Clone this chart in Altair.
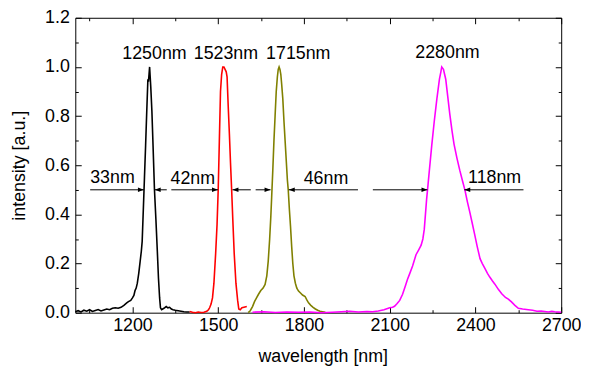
import altair as alt
import pandas as pd

# ---------------- data ----------------
black_nm = [1000, 1010, 1020, 1030, 1040, 1050, 1060, 1070, 1080, 1090, 1100, 1110, 1120, 1130, 1140, 1150,
            1160, 1170, 1180, 1186, 1194, 1200, 1205, 1209, 1213, 1217, 1222, 1227, 1231, 1234, 1238, 1242,
            1246, 1250, 1254, 1256, 1258, 1260, 1262, 1264, 1268, 1272, 1277, 1282, 1287, 1291, 1295, 1298,
            1302, 1310, 1318, 1324, 1330, 1336, 1342, 1350, 1360, 1370, 1380, 1390, 1400]
black_int = [0.004, 0.008, 0.003, 0.01, 0.006, 0.012, 0.005, 0.009, 0.013, 0.007, 0.011, 0.015, 0.012, 0.018,
             0.02, 0.018, 0.022, 0.03, 0.04, 0.045, 0.05, 0.06, 0.07, 0.09, 0.1, 0.12, 0.16, 0.21, 0.25, 0.29,
             0.42, 0.55, 0.68, 0.82, 0.95, 0.94, 0.97, 1.0, 0.96, 0.92, 0.82, 0.68, 0.5, 0.38, 0.25, 0.14,
             0.06, 0.02, 0.012, 0.018, 0.025, 0.02, 0.022, 0.015, 0.012, 0.01, 0.008, 0.006, 0.004, 0.003,
             0.003]

red_nm = [1400, 1410, 1420, 1430, 1440, 1450, 1460, 1466, 1470, 1475, 1480, 1485, 1491, 1496, 1500, 1504,
          1508, 1512, 1516, 1520, 1524, 1528, 1531, 1535, 1539, 1543, 1547, 1551, 1556, 1562, 1568, 1572,
          1577, 1583, 1590, 1600]
red_int = [0.005, 0.002, 0.0, 0.003, 0.001, 0.002, 0.006, 0.012, 0.02, 0.035, 0.06, 0.12, 0.24, 0.36, 0.5,
           0.7, 0.9, 0.97, 1.0, 1.0, 0.99, 0.98, 0.96, 0.84, 0.73, 0.61, 0.5, 0.38, 0.24, 0.12, 0.05, 0.015,
           0.012, 0.02, 0.022, 0.025]

olive_nm = [1605, 1612, 1620, 1627, 1634, 1641, 1649, 1657, 1664, 1670, 1675, 1680, 1684, 1687, 1691, 1695,
            1699, 1703, 1707, 1710, 1713, 1716, 1719, 1722, 1726, 1730, 1734, 1738, 1742, 1745, 1749, 1753,
            1757, 1761, 1765, 1770, 1775, 1781, 1788, 1795, 1804, 1810, 1816, 1824, 1832, 1840, 1848, 1856,
            1865, 1875]
olive_int = [0.0, 0.008, 0.025, 0.045, 0.06, 0.075, 0.09, 0.1, 0.115, 0.15, 0.21, 0.3, 0.39, 0.47, 0.58, 0.7,
             0.8, 0.9, 0.96, 0.99, 1.0, 0.99, 0.97, 0.93, 0.87, 0.78, 0.7, 0.62, 0.54, 0.5, 0.42, 0.35, 0.27,
             0.2, 0.15, 0.12, 0.1, 0.088, 0.08, 0.072, 0.066, 0.052, 0.04, 0.03, 0.022, 0.015, 0.01, 0.006,
             0.004, 0.002]

magenta_nm = [1620, 1660, 1700, 1740, 1780, 1820, 1860, 1900, 1930, 1960, 1990, 2020, 2040, 2060, 2080, 2090,
              2100, 2110, 2117, 2126, 2135, 2145, 2155, 2162, 2169, 2180, 2192, 2201, 2210, 2216, 2221, 2225,
              2229, 2234, 2238, 2247, 2256, 2265, 2274, 2279, 2282, 2285, 2288, 2292, 2296, 2303, 2310, 2318,
              2325, 2335, 2345, 2355, 2363, 2372, 2380, 2388, 2397, 2406, 2416, 2424, 2433, 2442, 2450, 2459,
              2468, 2480, 2492, 2505, 2515, 2526, 2538, 2550, 2565, 2585, 2600, 2615, 2630, 2642, 2655, 2667,
              2677, 2690, 2700]
magenta_int = [0.002, 0.004, 0.001, 0.003, 0.002, 0.003, 0.0, 0.002, 0.004, 0.006, 0.003, 0.005, 0.004, 0.007,
               0.012, 0.016, 0.02, 0.022, 0.026, 0.037, 0.05, 0.075, 0.11, 0.135, 0.156, 0.19, 0.236, 0.255,
               0.275, 0.3, 0.34, 0.4, 0.46, 0.52, 0.57, 0.68, 0.78, 0.87, 0.95, 0.98, 1.0, 0.995, 0.99, 0.97,
               0.95, 0.88, 0.81, 0.74, 0.686, 0.63, 0.58, 0.535, 0.5, 0.45, 0.41, 0.368, 0.32, 0.27, 0.22, 0.2,
               0.18, 0.16, 0.145, 0.13, 0.116, 0.095, 0.077, 0.062, 0.055, 0.044, 0.03, 0.018, 0.015, 0.012,
               0.01, 0.006, 0.007, 0.005, 0.003, 0.006, 0.004, 0.003, 0.002]

series_names = ["1250nm", "1523nm", "1715nm", "2280nm"]
series_colors = ["#000000", "#ff0000", "#808000", "#ff00ff"]

# FWHM arrows (horizontal, at half maximum)
arrow_start = [1052, 1320, 1336, 1614, 1631, 1989, 2041, 2568]
arrow_tip = [1240, 1278, 1499, 1550, 1683, 1747, 2232, 2361]
arrow_level = [0.5] * len(arrow_start)

# text annotations
label_text = ["1250nm", "1523nm", "1715nm", "2280nm", "33nm", "42nm", "46nm", "118nm"]
label_nm = [1277, 1527, 1780, 2302, 1130, 1411, 1877, 2467]
label_int = [1.034, 1.034, 1.034, 1.037, 0.529, 0.523, 0.523, 0.527]

x_major = [1200, 1500, 1800, 2100, 2400, 2700]
x_minor = [1050, 1350, 1650, 1950, 2250, 2550]
y_major = [0.0, 0.2, 0.4, 0.6, 0.8, 1.0, 1.2]
y_minor = [0.1, 0.3, 0.5, 0.7, 0.9, 1.1]

# ---------------- tables ----------------
frames = []
for name, xs_, ys_ in zip(series_names,
                          [black_nm, red_nm, olive_nm, magenta_nm],
                          [black_int, red_int, olive_int, magenta_int]):
    frames.append(pd.DataFrame({"nm": xs_, "intensity": ys_, "series": name}))
spectra = pd.concat(frames, ignore_index=True)

arrows = pd.DataFrame({"start": arrow_start, "tip": arrow_tip, "level": arrow_level})
heads_right = arrows[arrows["tip"] > arrows["start"]]
heads_left = arrows[arrows["tip"] < arrows["start"]]
labels_df = pd.DataFrame({"label": label_text, "x": label_nm, "y": label_int})

FONT = "Liberation Sans"
X_SCALE = alt.Scale(domain=[1000, 2700], nice=False, zero=False)
Y_SCALE = alt.Scale(domain=[0, 1.2], nice=False, zero=False)


def tick_axis(orient, values, size):
    return alt.Axis(orient=orient, values=values, tickSize=size, offset=-size, labels=False,
                    domain=False, grid=False, title=None, ticks=True, tickColor="black", tickWidth=1)


lines = alt.Chart(spectra).mark_line(strokeWidth=1.6).encode(
    x=alt.X("nm:Q", scale=X_SCALE,
            axis=alt.Axis(orient="bottom", values=x_major, format="d", ticks=False, tickSize=0,
                          domain=False, grid=False, labelPadding=4, labelFlush=False,
                          labelOverlap=False, title="wavelength [nm]", titleX=250, titleY=49,
                          titleBaseline="alphabetic", titleAlign="center")),
    y=alt.Y("intensity:Q", scale=Y_SCALE,
            axis=alt.Axis(orient="left", values=y_major, format=".1f", ticks=False, tickSize=0,
                          domain=False, grid=False, labelPadding=6, labelOverlap=False,
                          title="intensity [a.u.]", titleX=-51.5, titleY=149, titleAngle=270,
                          titleBaseline="alphabetic", titleAlign="center")),
    color=alt.Color("series:N", scale=alt.Scale(domain=series_names, range=series_colors), legend=None),
    detail="series:N",
)

rules = alt.Chart(arrows).mark_rule(color="black", strokeWidth=1).encode(
    x=alt.X("start:Q", scale=X_SCALE, axis=tick_axis("bottom", x_major, 6)),
    x2="tip:Q",
    y=alt.Y("level:Q", scale=Y_SCALE, axis=tick_axis("left", y_major, 6)),
)

RIGHT_HEAD = "M0,0L-1,-0.37L-1,0.37Z"
LEFT_HEAD = "M0,0L1,-0.37L1,0.37Z"

heads_r = alt.Chart(heads_right).mark_point(shape=RIGHT_HEAD, filled=True, size=144, color="black",
                                            opacity=1).encode(
    x=alt.X("tip:Q", scale=X_SCALE, axis=tick_axis("bottom", x_minor, 3)),
    y=alt.Y("level:Q", scale=Y_SCALE, axis=tick_axis("left", y_minor, 3)),
)

heads_l = alt.Chart(heads_left).mark_point(shape=LEFT_HEAD, filled=True, size=144, color="black",
                                           opacity=1).encode(
    x=alt.X("tip:Q", scale=X_SCALE, axis=tick_axis("top", x_minor, 3)),
    y=alt.Y("level:Q", scale=Y_SCALE, axis=tick_axis("right", y_minor, 3)),
)

texts = alt.Chart(labels_df).mark_text(font=FONT, fontSize=18, align="center", baseline="alphabetic",
                                       color="black").encode(
    x=alt.X("x:Q", scale=X_SCALE, axis=tick_axis("top", x_major, 6)),
    y=alt.Y("y:Q", scale=Y_SCALE, axis=tick_axis("right", y_major, 6)),
    text="label:N",
)

chart = alt.layer(lines, rules, heads_r, heads_l, texts).resolve_axis(
    x="independent", y="independent"
).properties(
    width=491, height=298,
    padding={"left": 68, "top": 8, "right": 20, "bottom": 53},
    autosize=alt.AutoSizeParams(type="none"),
    background="white",
).configure_view(
    stroke="black", strokeWidth=1
).configure_axis(
    labelFont=FONT, titleFont=FONT, labelFontSize=18, titleFontSize=18, titleFontWeight="normal",
    labelColor="black", titleColor="black"
)

chart.save("out.html", embed_options={"renderer": "svg", "actions": False})
